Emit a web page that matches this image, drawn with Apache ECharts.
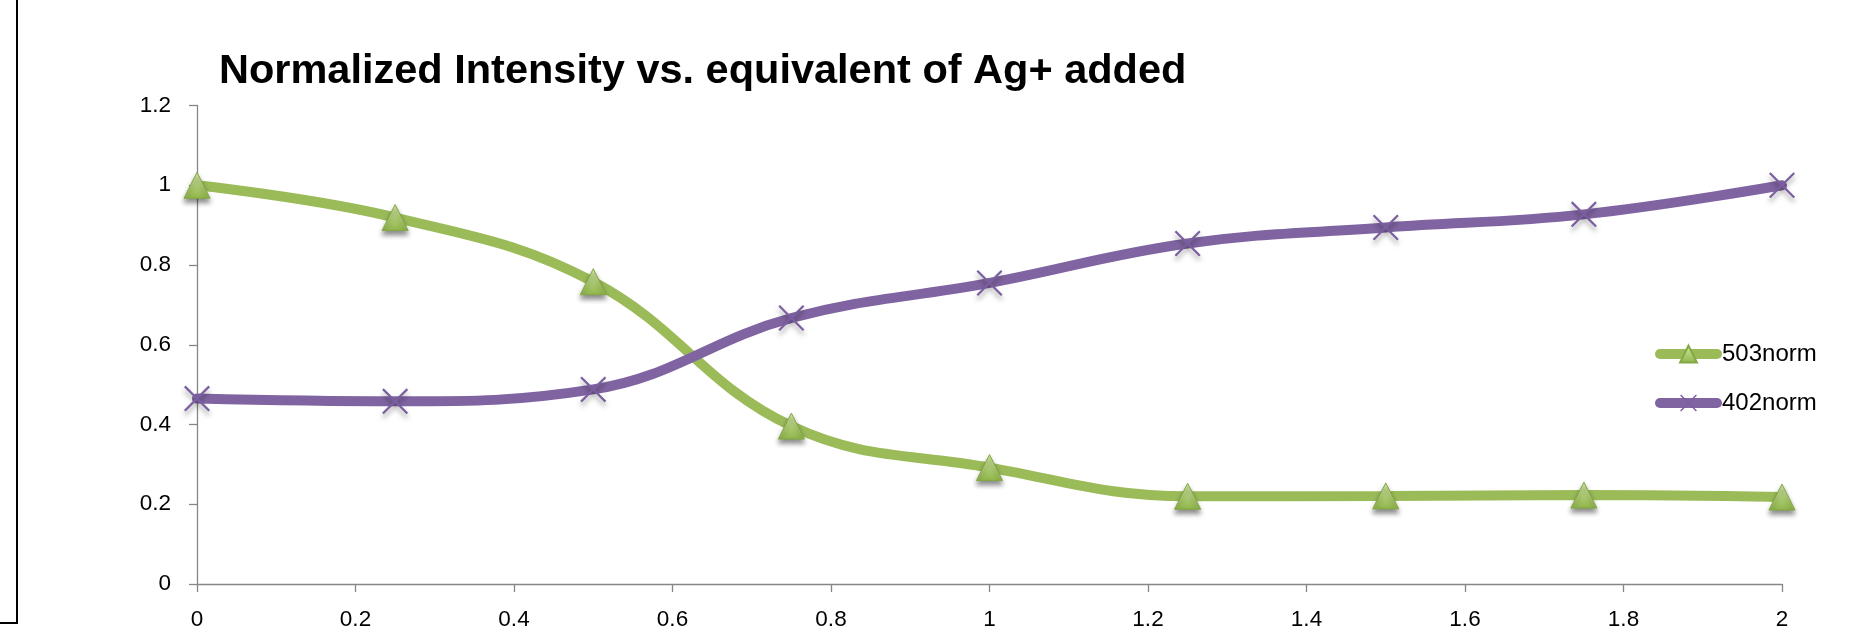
<!DOCTYPE html>
<html><head><meta charset="utf-8">
<script src="https://cdn.jsdelivr.net/npm/echarts@6/dist/echarts.min.js"></script>
<style>html,body{margin:0;padding:0;background:#fff}#c{width:1873px;height:644px}</style>
</head><body><div id="c"></div>
<script>
const titleText = 'Normalized Intensity vs. equivalent of Ag+ added';
const xValues = [0, 0.25, 0.5, 0.75, 1, 1.25, 1.5, 1.75, 2];
const s503 = [1.0, 0.919, 0.758, 0.396, 0.292, 0.220, 0.221, 0.223, 0.218];
const s402 = [0.465, 0.458, 0.488, 0.667, 0.755, 0.854, 0.894, 0.927, 1.0];
const seriesNames = ['503norm', '402norm'];

const FONT = "'Liberation Sans', Arial, sans-serif";
const xSymbol = 'path://M0,6L6,0L50,44L94,0L100,6L56,50L100,94L94,100L50,56L6,100L0,94L44,50Z';

const chart = echarts.init(document.getElementById('c'), null, {renderer: 'canvas'});
const pairs = arr => xValues.map((x, i) => [x, arr[i]]);

const axisCommon = {
  axisLine: {show: true, lineStyle: {color: '#868686', width: 1.3}},
  axisTick: {show: true, inside: false, length: 8, lineStyle: {color: '#868686', width: 1.3}},
  splitLine: {show: false},
  axisLabel: {color: '#000', fontSize: 22.5, fontFamily: FONT}
};

chart.setOption({
  animation: false,
  backgroundColor: '#fff',
  title: {
    text: titleText, left: 214, top: 46,
    textStyle: {fontSize: 41.5, fontWeight: 'bold', color: '#000', fontFamily: FONT}
  },
  graphic: [{
    type: 'polyline',
    shape: {points: [[17, 0], [17, 623], [0, 623]]},
    style: {stroke: '#000', lineWidth: 2, fill: null}
  }],
  grid: {left: 197, right: 91, top: 105.5, bottom: 60},
  legend: {
    orient: 'vertical', left: 1650, top: 337, itemGap: 25,
    itemWidth: 57, itemHeight: 21,
    textStyle: {fontSize: 24, color: '#000', fontFamily: FONT},
    lineStyle: {width: 10, cap: 'round'},
    data: seriesNames
  },
  xAxis: Object.assign({type: 'value', min: 0, max: 2, interval: 0.2}, axisCommon,
    {axisLabel: Object.assign({}, axisCommon.axisLabel, {margin: 24})}),
  yAxis: Object.assign({type: 'value', min: 0, max: 1.2, interval: 0.2}, axisCommon,
    {axisLabel: Object.assign({}, axisCommon.axisLabel, {margin: 26})}),
  series: [
    {
      name: seriesNames[0], type: 'line', smooth: 0.4,
      data: pairs(s503),
      symbol: 'triangle', symbolSize: 26,
      lineStyle: {color: '#9BBB59', width: 10, cap: 'round'},
      itemStyle: {
        color: new echarts.graphic.LinearGradient(0, 0, 0, 1, [
          {offset: 0, color: '#d2e8a6'}, {offset: 1, color: '#8fb548'}
        ]),
        borderColor: '#84a843', borderWidth: 1,
        shadowColor: 'rgba(0,0,0,0.45)', shadowBlur: 5, shadowOffsetY: 4
      },
      z: 2
    },
    {
      name: seriesNames[1], type: 'line', smooth: 0.4,
      data: pairs(s402),
      symbol: xSymbol, symbolSize: 26,
      lineStyle: {color: '#8064A2', width: 10, cap: 'round'},
      itemStyle: {
        color: '#7a5ea0',
        shadowColor: 'rgba(0,0,0,0.4)', shadowBlur: 5, shadowOffsetY: 4
      },
      z: 3
    }
  ]
});
</script>
</body></html>
